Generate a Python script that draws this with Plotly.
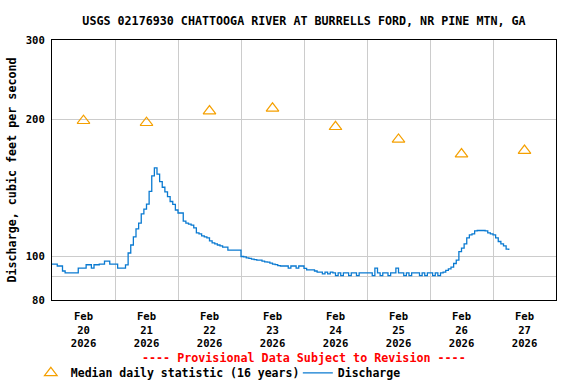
import pandas as pd
import plotly.graph_objects as go

# ---- data ----
start_time = "2026-02-20 00:00"
# hourly discharge (cfs), Feb 20 00:00 onward
feb20 = [96.0, 96.0, 95.1, 95.1, 92.7, 91.8, 91.8, 91.8, 91.8, 91.8, 94.1, 94.1,
         94.1, 95.7, 95.7, 94.1, 95.7, 95.7, 96.0, 96.0, 97.5, 97.5, 96.0, 96.0]
feb21 = [96.0, 94.1, 94.1, 94.1, 95.6, 101.6, 105.8, 110.3, 114.8, 118.3, 124.0, 127.0,
         130.3, 139.0, 150.4, 156.6, 151.7, 146.0, 141.9, 138.6, 135.3, 132.0, 130.1, 126.4]
feb22 = [124.5, 124.5, 119.5, 118.3, 117.7, 117.1, 115.4, 112.5, 112.0, 110.8, 110.3, 109.7,
         108.0, 107.0, 106.4, 105.8, 105.3, 104.7, 104.7, 103.1, 103.1, 103.1, 103.1, 103.1]
feb23 = [99.8, 99.6, 99.1, 98.9, 98.5, 98.2, 98.0, 98.0, 97.5, 97.1, 97.0, 96.5,
         96.0, 95.8, 95.3, 95.1, 95.1, 95.1, 94.1, 95.1, 95.1, 94.1, 95.1, 95.1]
feb24 = [94.0, 93.2, 93.2, 93.2, 92.7, 92.2, 92.2, 91.4, 92.2, 91.4, 92.2, 91.8,
         90.6, 91.8, 90.6, 91.8, 91.8, 90.6, 91.8, 91.8, 90.6, 91.8, 91.8, 91.8]
feb25 = [91.8, 91.8, 90.6, 94.1, 91.8, 90.6, 91.8, 91.8, 90.6, 91.8, 91.8, 94.1,
         91.8, 91.8, 90.6, 91.8, 90.6, 91.8, 91.8, 91.8, 90.6, 91.8, 90.6, 91.8]
feb26 = [91.8, 90.6, 91.8, 90.6, 91.8, 92.2, 93.0, 93.7, 94.6, 96.3, 98.0, 102.3,
         104.1, 106.4, 109.7, 111.4, 112.0, 113.7, 113.9, 113.9, 113.9, 113.7, 112.5, 112.0]
feb27 = [111.4, 109.7, 107.7, 106.4, 105.3, 103.6, 103.1]
discharge = feb20 + feb21 + feb22 + feb23 + feb24 + feb25 + feb26 + feb27

median_dates = ["2026-02-20 12:00", "2026-02-21 12:00", "2026-02-22 12:00", "2026-02-23 12:00",
                "2026-02-24 12:00", "2026-02-25 12:00", "2026-02-26 12:00", "2026-02-27 12:00"]
median_values = [199, 197, 209, 212, 193, 181, 168, 171]

tick_dates = median_dates
tick_labels = ["Feb<br>20<br>2026", "Feb<br>21<br>2026", "Feb<br>22<br>2026", "Feb<br>23<br>2026",
               "Feb<br>24<br>2026", "Feb<br>25<br>2026", "Feb<br>26<br>2026", "Feb<br>27<br>2026"]
y_tickvals = [80, 90, 100, 200, 300]
y_ticktext = ["80", "", "100", "200", "300"]

times = pd.date_range(start_time, periods=len(discharge), freq="h")

FONT = "DejaVu Sans Mono"
TXT = 11.7
TICK = 10.6

fig = go.Figure()
fig.add_trace(go.Scatter(
    x=median_dates, y=median_values, mode="markers",
    name="Median daily statistic (16 years)",
    marker=dict(symbol="triangle-up-open", size=11, color="#f5a000", line=dict(width=1.2)),
))
fig.add_trace(go.Scatter(
    x=times, y=discharge, mode="lines", name="Discharge",
    line=dict(color="#0a7ad1", width=1.3, shape="hv"),
))

fig.update_layout(
    width=576, height=384,
    margin=dict(l=52, r=20, t=40, b=84, autoexpand=False),
    paper_bgcolor="white", plot_bgcolor="white",
    font=dict(family=FONT, size=TXT, color="black", weight="bold"),
    title=dict(text="USGS 02176930 CHATTOOGA RIVER AT BURRELLS FORD, NR PINE MTN, GA",
               x=0.5, xref="paper", xanchor="center", y=1 - 21 / 384, yref="container", yanchor="middle",
               font=dict(family=FONT, size=TXT, color="black", weight="bold")),
    showlegend=True,
    legend=dict(orientation="h", x=-0.042, xanchor="left", y=-0.28, yanchor="middle",
                font=dict(family=FONT, size=11.5, color="black", weight="bold"),
                bgcolor="rgba(0,0,0,0)", entrywidth=222, entrywidthmode="pixels",
                tracegroupgap=0),
    annotations=[dict(text="---- Provisional Data Subject to Revision ----",
                      x=0.5, xref="paper", xanchor="center", y=-0.223, yref="paper", yanchor="middle",
                      showarrow=False,
                      font=dict(family=FONT, size=TXT, color="#ff0000", weight="bold"))],
)
fig.update_xaxes(
    range=["2026-02-20 00:00", "2026-02-28 00:00"],
    tickmode="array", tickvals=tick_dates, ticktext=tick_labels, ticks="",
    ticklabelstandoff=6,
    showgrid=False, showline=True, linecolor="black", linewidth=1, mirror=True,
    tickfont=dict(family=FONT, size=TICK, color="black", weight="bold"),
    minor=dict(tickmode="linear", tick0="2026-02-20", dtick=86400000, showgrid=True,
               gridcolor="#cccccc", gridwidth=1, ticks=""),
    zeroline=False, automargin=False,
)
fig.update_yaxes(
    type="log", range=[1.9031, 2.4771],
    tickmode="array", tickvals=y_tickvals, ticktext=y_ticktext, ticks="",
    ticklabelstandoff=4,
    showgrid=True, gridcolor="#cccccc", gridwidth=1,
    showline=True, linecolor="black", linewidth=1, mirror=True,
    tickfont=dict(family=FONT, size=TICK, color="black", weight="bold"),
    title=dict(text="Discharge, cubic feet per second", standoff=6,
               font=dict(family=FONT, size=TXT, color="black", weight="bold")),
    zeroline=False, automargin=False,
)

fig.write_html("out.html", config={"displayModeBar": False},
               post_script="document.body.style.margin='0';")
